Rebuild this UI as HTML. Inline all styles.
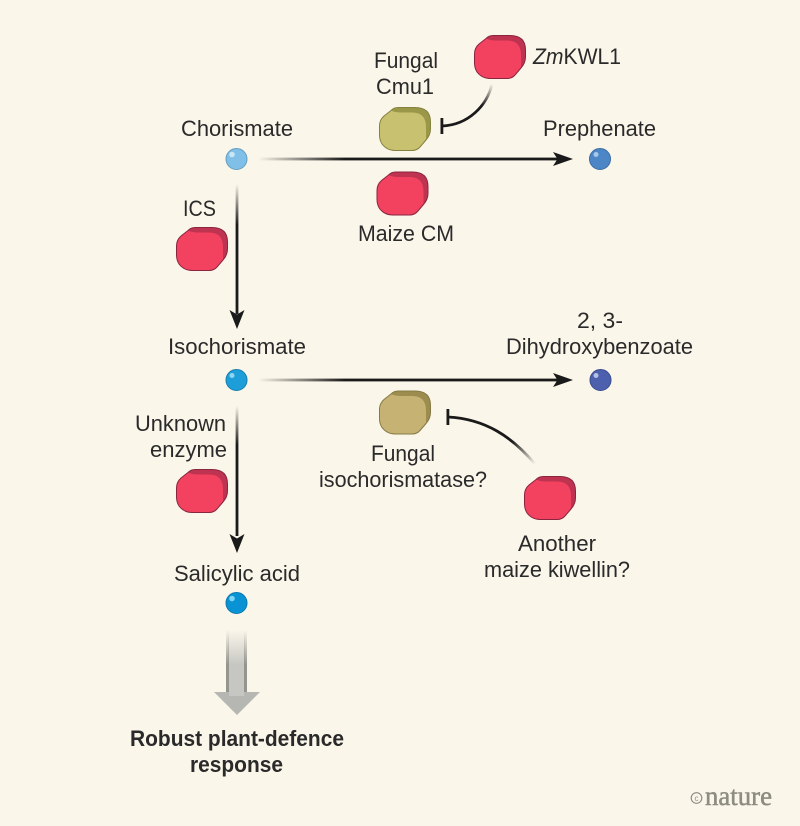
<!DOCTYPE html>
<html>
<head>
<meta charset="utf-8">
<style>
html,body{margin:0;padding:0;background:#fbf6ea;}
svg{display:block;}
text{font-family:"Liberation Sans",sans-serif;font-size:22px;fill:#2a2a2a;}
</style>
</head>
<body>
<svg width="800" height="826" viewBox="0 0 800 826" xmlns="http://www.w3.org/2000/svg">
<defs>
<linearGradient id="h1" gradientUnits="userSpaceOnUse" x1="258" y1="0" x2="345" y2="0"><stop offset="0" stop-color="#1a1a1a" stop-opacity="0"/><stop offset="1" stop-color="#1a1a1a"/></linearGradient>
<linearGradient id="v1" gradientUnits="userSpaceOnUse" x1="0" y1="184" x2="0" y2="225"><stop offset="0" stop-color="#1a1a1a" stop-opacity="0"/><stop offset="1" stop-color="#1a1a1a"/></linearGradient>
<linearGradient id="v2" gradientUnits="userSpaceOnUse" x1="0" y1="406" x2="0" y2="445"><stop offset="0" stop-color="#1a1a1a" stop-opacity="0"/><stop offset="1" stop-color="#1a1a1a"/></linearGradient>
<linearGradient id="c1" gradientUnits="userSpaceOnUse" x1="492" y1="84" x2="482" y2="106"><stop offset="0" stop-color="#1a1a1a" stop-opacity="0"/><stop offset="1" stop-color="#1a1a1a"/></linearGradient>
<linearGradient id="c2" gradientUnits="userSpaceOnUse" x1="535" y1="464" x2="512" y2="441"><stop offset="0" stop-color="#1a1a1a" stop-opacity="0"/><stop offset="1" stop-color="#1a1a1a"/></linearGradient>
<linearGradient id="gs" gradientUnits="userSpaceOnUse" x1="0" y1="630" x2="0" y2="665"><stop offset="0" stop-color="#c6c7c2" stop-opacity="0"/><stop offset="1" stop-color="#c6c7c2"/></linearGradient>
<linearGradient id="ge" gradientUnits="userSpaceOnUse" x1="0" y1="630" x2="0" y2="665"><stop offset="0" stop-color="#94958f" stop-opacity="0"/><stop offset="1" stop-color="#94958f"/></linearGradient>
<path id="outer" d="M19,.5 L36,.5 Q51.500,.5 51.500,15 L51.500,22 Q51.500,28 47,33 L41,40 Q38,43.500 33,43.500 L16,43.500 Q8,43.500 3,37 Q.5,33 .5,28 L.5,19 Q.5,13 5,9 L12,3.500 Q15,.5 19,.5Z"/>
<path id="front" d="M.5,19 Q.5,13 5,9 L12,3.500 Q16,5.500 22,5.500 L33,5.500 Q47,5.500 47,20 L47,32 L41,40 Q38,43.500 33,43.500 L16,43.500 Q8,43.500 3,37 Q.5,33 .5,28Z"/>
<g id="red"><use href="#outer" fill="#bd3350"/><use href="#front" fill="#f2425f"/><use href="#outer" fill="none" stroke="#8a2540" stroke-width="1"/></g>
<g id="olive"><use href="#outer" fill="#9b9748"/><use href="#front" fill="#c8c16f"/><use href="#outer" fill="none" stroke="#85823f" stroke-width="1"/></g>
<g id="tan"><use href="#outer" fill="#9c8d4e"/><use href="#front" fill="#c6b374"/><use href="#outer" fill="none" stroke="#857943" stroke-width="1"/></g>
</defs>

<rect width="800" height="826" fill="#fbf6ea"/>

<!-- horizontal arrows -->
<rect x="258" y="157.600" width="300" height="2.800" fill="url(#h1)"/>
<path d="M553,152 L573,159 L553,166 L557.500,159Z" fill="#1a1a1a"/>
<g transform="translate(0,221)">
<rect x="258" y="157.600" width="300" height="2.800" fill="url(#h1)"/>
<path d="M553,152 L573,159 L553,166 L557.500,159Z" fill="#1a1a1a"/>
</g>

<!-- vertical arrows -->
<rect x="235.600" y="184" width="2.800" height="130" fill="url(#v1)"/>
<path d="M229.500,310 L237,329 L244.500,310 L237,314.500Z" fill="#1a1a1a"/>
<rect x="235.600" y="406" width="2.800" height="130" fill="url(#v2)"/>
<path d="M229.500,534 L237,553 L244.500,534 L237,538.500Z" fill="#1a1a1a"/>

<!-- inhibition -->
<path d="M492,84 C487,106 468,125 442,126" fill="none" stroke="url(#c1)" stroke-width="2.800"/>
<rect x="440.500" y="118" width="2.800" height="16" fill="#1a1a1a"/>
<path d="M535,464 C512,437 486,419 448,417" fill="none" stroke="url(#c2)" stroke-width="2.800"/>
<rect x="446.500" y="409" width="2.800" height="16" fill="#1a1a1a"/>

<!-- enzymes -->
<use href="#red" x="474" y="35"/>
<use href="#olive" x="379" y="107"/>
<use href="#red" x="376.500" y="171.500"/>
<use href="#red" x="176" y="227"/>
<use href="#tan" x="379" y="390.500"/>
<use href="#red" x="176" y="469"/>
<use href="#red" x="524" y="476"/>

<!-- metabolites -->
<circle cx="236.500" cy="159" r="10.500" fill="#80bfe8" stroke="#669fbe" stroke-width="1"/>
<circle cx="232" cy="154.500" r="2.800" fill="#c8e6f6"/>
<circle cx="600" cy="159" r="10.500" fill="#4d86c6" stroke="#3a6ca5" stroke-width="1"/>
<circle cx="596" cy="154.500" r="2.500" fill="#a6c8ea"/>
<circle cx="236.500" cy="380" r="10.500" fill="#1e9ed8" stroke="#187fae" stroke-width="1"/>
<circle cx="232" cy="375.500" r="2.500" fill="#90d6f4"/>
<circle cx="600.500" cy="380" r="10.500" fill="#4c60ae" stroke="#3a4c90" stroke-width="1"/>
<circle cx="596" cy="375.500" r="2.500" fill="#b4c0e8"/>
<circle cx="236.500" cy="603" r="10.500" fill="#0a93d4" stroke="#0a78ad" stroke-width="1"/>
<circle cx="232" cy="598.500" r="2.800" fill="#80d4f6"/>

<!-- big grey arrow -->
<rect x="228" y="630" width="17" height="63" fill="url(#gs)"/>
<rect x="226" y="630" width="3" height="63" fill="url(#ge)"/>
<rect x="244" y="630" width="3" height="63" fill="url(#ge)"/>
<path d="M214,692 L260,692 L237,715Z" fill="#b6b7b2"/>
<rect x="229" y="692" width="15" height="4" fill="#c6c7c2"/>

<!-- labels -->
<text x="181" y="136" textLength="112" lengthAdjust="spacingAndGlyphs">Chorismate</text>
<text x="543" y="136" textLength="113" lengthAdjust="spacingAndGlyphs">Prephenate</text>
<text x="374" y="68" textLength="64" lengthAdjust="spacingAndGlyphs">Fungal</text>
<text x="376" y="94" textLength="58" lengthAdjust="spacingAndGlyphs">Cmu1</text>
<text x="533" y="64" textLength="88" lengthAdjust="spacingAndGlyphs"><tspan font-style="italic">Zm</tspan>KWL1</text>
<text x="358" y="241" textLength="96" lengthAdjust="spacingAndGlyphs">Maize CM</text>
<text x="183" y="216" textLength="33" lengthAdjust="spacingAndGlyphs">ICS</text>
<text x="168" y="354" textLength="138" lengthAdjust="spacingAndGlyphs">Isochorismate</text>
<text x="577" y="328" textLength="46" lengthAdjust="spacingAndGlyphs">2, 3-</text>
<text x="506" y="354" textLength="187" lengthAdjust="spacingAndGlyphs">Dihydroxybenzoate</text>
<text x="135" y="431" textLength="91" lengthAdjust="spacingAndGlyphs">Unknown</text>
<text x="150" y="457" textLength="77" lengthAdjust="spacingAndGlyphs">enzyme</text>
<text x="371" y="461" textLength="64" lengthAdjust="spacingAndGlyphs">Fungal</text>
<text x="319" y="487" textLength="168" lengthAdjust="spacingAndGlyphs">isochorismatase?</text>
<text x="518" y="551" textLength="78" lengthAdjust="spacingAndGlyphs">Another</text>
<text x="484" y="577" textLength="146" lengthAdjust="spacingAndGlyphs">maize kiwellin?</text>
<text x="174" y="581" textLength="126" lengthAdjust="spacingAndGlyphs">Salicylic acid</text>
<text x="130" y="746" textLength="214" lengthAdjust="spacingAndGlyphs" font-weight="700">Robust plant-defence</text>
<text x="190" y="772" textLength="93" lengthAdjust="spacingAndGlyphs" font-weight="700">response</text>

<!-- logo -->
<circle cx="696.500" cy="798" r="5.300" fill="none" stroke="#8e8e84" stroke-width="1.200"/>
<text x="696.500" y="801" text-anchor="middle" style="font-size:8px;fill:#8e8e84">c</text>
<text x="705" y="805" textLength="67" lengthAdjust="spacingAndGlyphs" style="font-family:'Liberation Serif',serif;font-size:27px;fill:#8c8c80;stroke:#8c8c80;stroke-width:.5">nature</text>
</svg>
</body>
</html>
